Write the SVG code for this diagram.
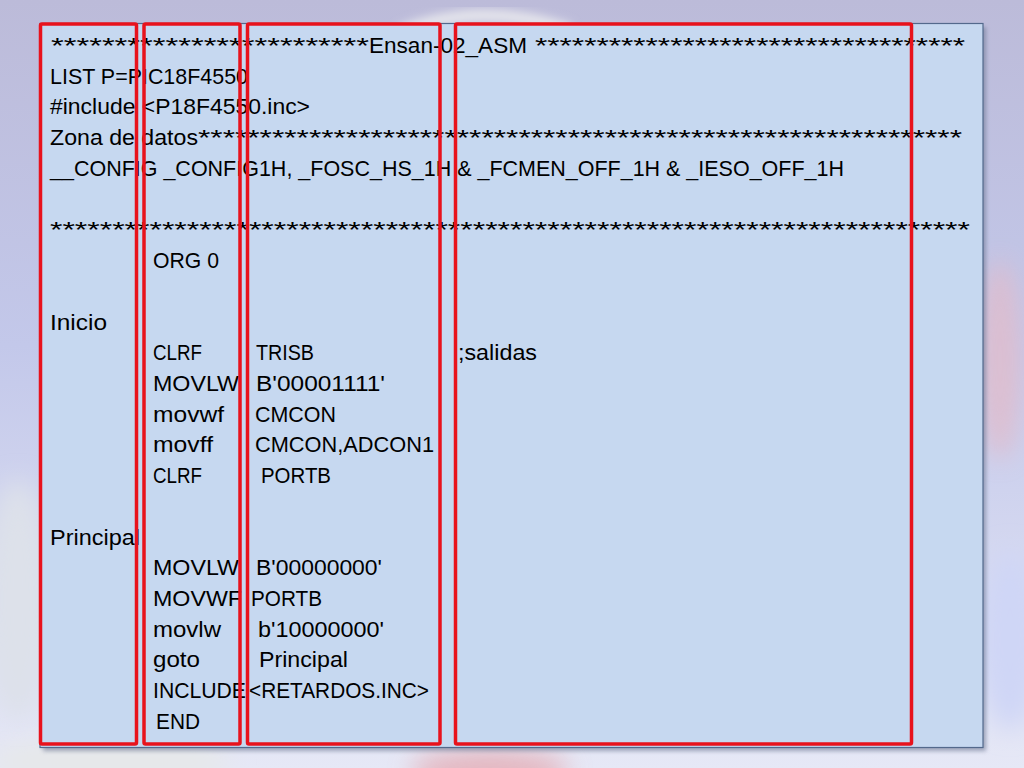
<svg xmlns="http://www.w3.org/2000/svg" width="1024" height="768" viewBox="0 0 1024 768">
<defs>
<linearGradient id="bg" x1="0" y1="0" x2="0" y2="1">
<stop offset="0" stop-color="#bcbbd9"/>
<stop offset="0.45" stop-color="#c3c8ea"/>
<stop offset="1" stop-color="#e6e8f6"/>
</linearGradient>
<filter id="blur" x="-50%" y="-50%" width="200%" height="200%"><feGaussianBlur stdDeviation="12"/></filter>
<filter id="blur2" x="-50%" y="-50%" width="200%" height="200%"><feGaussianBlur stdDeviation="5"/></filter>
<filter id="shadow" x="-5%" y="-5%" width="110%" height="110%"><feGaussianBlur stdDeviation="2"/></filter>
<style>
.t{font-family:"Liberation Sans",Arial,sans-serif;font-size:22px;fill:#000;}
.hl{fill:none;stroke:#e8121c;stroke-width:3.5;}
</style>
</defs>
<g id="background">
<rect x="0" y="0" width="1024" height="768" fill="url(#bg)"/>
<path d="M400 32 Q480 0 570 30" stroke="#e6e6ec" stroke-width="12" fill="none" filter="url(#blur2)"/>
<ellipse cx="1000" cy="360" rx="22" ry="100" fill="#e2bccb" opacity="0.8" filter="url(#blur)"/>
<ellipse cx="490" cy="770" rx="80" ry="20" fill="#e4aab2" opacity="0.8" filter="url(#blur)"/>
<ellipse cx="110" cy="762" rx="120" ry="28" fill="#e6e8ea" filter="url(#blur)"/>
<ellipse cx="18" cy="600" rx="34" ry="120" fill="#dde1ea" filter="url(#blur)"/>
<ellipse cx="1010" cy="640" rx="30" ry="90" fill="#cfd6f6" filter="url(#blur)"/>
</g>
<g id="code-box">
<rect x="43" y="27" width="943" height="724" fill="#6a7590" opacity="0.6" filter="url(#shadow)"/>
<rect x="40" y="23.5" width="943" height="724" fill="#c6d8f0" stroke="#53698c" stroke-width="1.2"/>
</g>
<g id="code-text" class="t">
<text x="51" y="53"><tspan textLength="318" lengthAdjust="spacingAndGlyphs">*************************</tspan><tspan x="369" textLength="158" lengthAdjust="spacingAndGlyphs">Ensan-02_ASM</tspan> <tspan x="535" textLength="430" lengthAdjust="spacingAndGlyphs">***********************************</tspan></text>
<text x="50" y="83.7" textLength="198" lengthAdjust="spacingAndGlyphs">LIST P=PIC18F4550</text>
<text x="50" y="114.4" textLength="260" lengthAdjust="spacingAndGlyphs">#include &lt;P18F4550.inc&gt;</text>
<text x="50" y="145.2"><tspan textLength="148" lengthAdjust="spacingAndGlyphs">Zona de datos</tspan><tspan x="198" textLength="764" lengthAdjust="spacingAndGlyphs">**************************************************************</tspan></text>
<text x="50" y="175.9" textLength="794" lengthAdjust="spacingAndGlyphs">__CONFIG _CONFIG1H, _FOSC_HS_1H &amp; _FCMEN_OFF_1H &amp; _IESO_OFF_1H</text>
<text x="50" y="237.3" textLength="920" lengthAdjust="spacingAndGlyphs">**************************************************************************</text>
<text x="153" y="268" textLength="66" lengthAdjust="spacingAndGlyphs">ORG 0</text>
<text x="50" y="329.5" textLength="57" lengthAdjust="spacingAndGlyphs">Inicio</text>
<text x="153" y="360.2" textLength="49" lengthAdjust="spacingAndGlyphs">CLRF</text>
<text x="256" y="360.2" textLength="58" lengthAdjust="spacingAndGlyphs">TRISB</text>
<text x="458" y="360.2" textLength="79" lengthAdjust="spacingAndGlyphs">;salidas</text>
<text x="153" y="390.9" textLength="86" lengthAdjust="spacingAndGlyphs">MOVLW</text>
<text x="256" y="390.9" textLength="129" lengthAdjust="spacingAndGlyphs">B'00001111'</text>
<text x="153" y="421.6" textLength="71" lengthAdjust="spacingAndGlyphs">movwf</text>
<text x="255" y="421.6" textLength="81" lengthAdjust="spacingAndGlyphs">CMCON</text>
<text x="153" y="452.4" textLength="60" lengthAdjust="spacingAndGlyphs">movff</text>
<text x="255" y="452.4" textLength="179" lengthAdjust="spacingAndGlyphs">CMCON,ADCON1</text>
<text x="153" y="483.1" textLength="49" lengthAdjust="spacingAndGlyphs">CLRF</text>
<text x="261" y="483.1" textLength="70" lengthAdjust="spacingAndGlyphs">PORTB</text>
<text x="50" y="544.5" textLength="90" lengthAdjust="spacingAndGlyphs">Principal</text>
<text x="153" y="575.2" textLength="86" lengthAdjust="spacingAndGlyphs">MOVLW</text>
<text x="256" y="575.2" textLength="126" lengthAdjust="spacingAndGlyphs">B'00000000'</text>
<text x="153" y="606" textLength="89" lengthAdjust="spacingAndGlyphs">MOVWF</text>
<text x="251" y="606" textLength="71" lengthAdjust="spacingAndGlyphs">PORTB</text>
<text x="153" y="636.7" textLength="68" lengthAdjust="spacingAndGlyphs">movlw</text>
<text x="258" y="636.7" textLength="126" lengthAdjust="spacingAndGlyphs">b'10000000'</text>
<text x="153" y="667.4" textLength="47" lengthAdjust="spacingAndGlyphs">goto</text>
<text x="259" y="667.4" textLength="89" lengthAdjust="spacingAndGlyphs">Principal</text>
<text x="153" y="698.1" textLength="93" lengthAdjust="spacingAndGlyphs">INCLUDE</text>
<text x="249" y="698.1" textLength="180" lengthAdjust="spacingAndGlyphs">&lt;RETARDOS.INC&gt;</text>
<text x="156" y="728.8" textLength="44" lengthAdjust="spacingAndGlyphs">END</text>
</g>
<g id="highlights">
<rect id="col-labels" class="hl" x="40.5" y="24" width="96" height="720" rx="1.5"/>
<rect id="col-opcodes" class="hl" x="144" y="24" width="96" height="720" rx="1.5"/>
<rect id="col-operands" class="hl" x="247.5" y="24" width="192.5" height="720" rx="1.5"/>
<rect id="col-comments" class="hl" x="455.5" y="24" width="456" height="720" rx="1.5"/>
</g>
</svg>
